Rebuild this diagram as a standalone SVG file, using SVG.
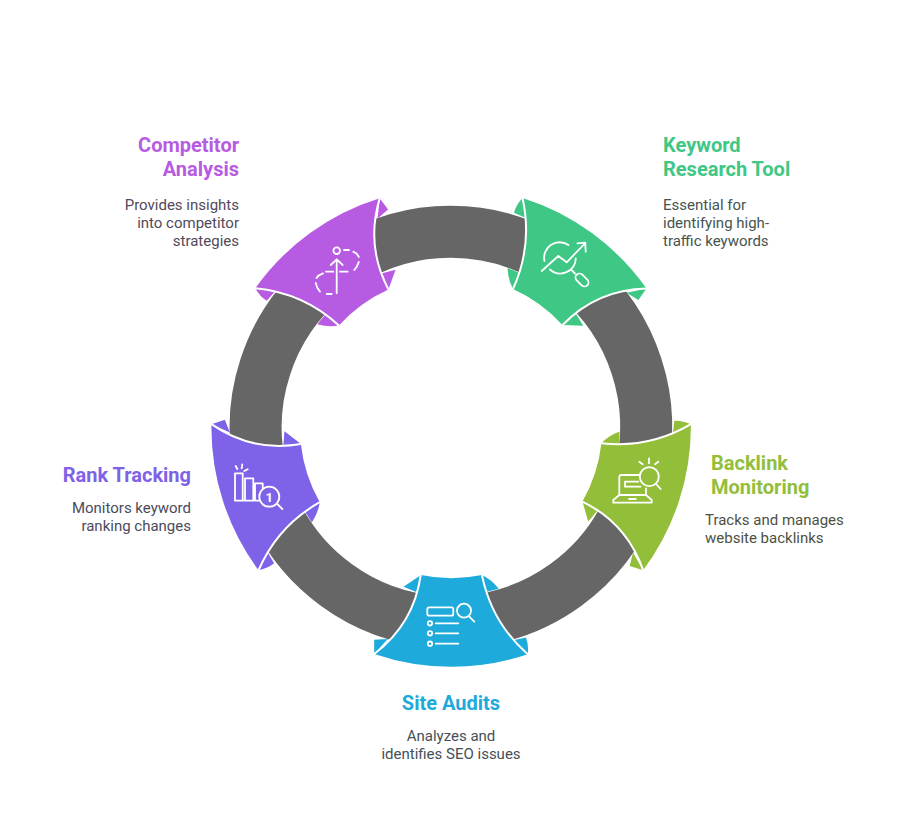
<svg xmlns="http://www.w3.org/2000/svg" xmlns:xlink="http://www.w3.org/1999/xlink" width="902" height="824" viewBox="0 0 902 824">
<style>
.ring{fill:none;stroke:#666666;stroke-width:52}
.sep{fill:none;stroke:#ffffff;stroke-width:2}
.ico{fill:none;stroke:#ffffff;stroke-width:1.8;stroke-linecap:round;stroke-linejoin:round}
text{font-family:Roboto,"Liberation Sans",sans-serif}
.t{font-size:20px;font-weight:700}
.d{font-size:15px}
.e{text-anchor:end}.m{text-anchor:middle}
.kw{fill:#3ec785}.bl{fill:#93be3a}.sa{fill:#1eaadb}.rt{fill:#7e63e9}.ca{fill:#b75ce2}
.dkw{fill:#46544f}.dbl{fill:#4d5143}.dsa{fill:#455057}.drt{fill:#4c4a5c}.dca{fill:#524a5a}
</style>
<defs>
<g id="petal">
<path d="M522.5 198Q516 205 514 212.7L526 218ZM513 289Q508 280 507.5 268L521 273.5ZM646.5 288.5L638.3 300L626.7 292.7ZM562.7 325L583.3 325.7L576 314Z"/>
<path d="M522.5 198A240 240 0 0 1 646.5 288.5Q596.9 289.6 562.5 325A151 151 0 0 0 513 289Q533 245 522.5 198Z"/>
<path class="sep" d="M522.5 198Q533 245 513 289M646.5 288.5Q596.9 289.6 562.5 325"/>
</g>
<path id="arc" class="ring" d="M576.4 277.2A195 195 0 0 1 640.2 474.2"/>
</defs>
<g id="connectors">
<use xlink:href="#arc" href="#arc"/>
<use xlink:href="#arc" href="#arc" transform="rotate(72 451 427)"/>
<use xlink:href="#arc" href="#arc" transform="rotate(144 451 427)"/>
<use xlink:href="#arc" href="#arc" transform="rotate(216 451 427)"/>
<use xlink:href="#arc" href="#arc" transform="rotate(288 451 427)"/>
</g>
<g id="node-keyword">
<use href="#petal" class="kw"/>
<g class="ico">
<path d="M544.5 261A15.5 15.5 0 0 1 568.5 245M575.8 258.5A15.5 15.5 0 0 1 550 269.5"/>
<path d="M541.7 271L558.3 256L566.7 262.3L585 243.3M577.3 243.3L585.3 242.7L585.7 251.7"/>
<path d="M571.5 270L575 273.5"/>
<rect x="574.5" y="276" width="15" height="8" rx="4" transform="rotate(45 582 280)"/>
</g>
<text class="t kw" x="663" y="152">Keyword</text>
<text class="t kw" x="663" y="176">Research Tool</text>
<text class="d dkw" x="663" y="210">Essential for</text>
<text class="d dkw" x="663" y="228">identifying high-</text>
<text class="d dkw" x="663" y="246">traffic keywords</text>
</g>
<g id="node-backlink">
<use href="#petal" class="bl" transform="rotate(72 451 427)"/>
<g class="ico">
<path d="M619.3 495V477Q619.3 475 621.3 475H639M646 488.3V495"/>
<path d="M619.3 495L613.3 500V502.7H651.7V500L646 495ZM629 499H635.7"/>
<path d="M638.3 481.7H625V486.7H640.5"/>
<circle cx="649.3" cy="476.7" r="9.5"/>
<path d="M656 484L660.7 489M649 458.3V463.3M639.3 461.7L642.7 464.3M658.3 461.7L655 464.3"/>
</g>
<text class="t bl" x="711" y="470">Backlink</text>
<text class="t bl" x="711" y="494">Monitoring</text>
<text class="d dbl" x="705" y="525">Tracks and manages</text>
<text class="d dbl" x="705" y="543">website backlinks</text>
</g>
<g id="node-site">
<use href="#petal" class="sa" transform="rotate(144 451 427)"/>
<g class="ico">
<rect x="427.3" y="607.3" width="26" height="8.4" rx="2"/>
<circle cx="464" cy="610.7" r="7"/>
<path d="M469.3 616.7L474.3 621.7M435.7 623.3H458.3M435.7 633.3H458.3M435.7 643.7H458.3"/>
<circle cx="430" cy="623.3" r="2.2"/>
<circle cx="430" cy="633.3" r="2.2"/>
<circle cx="430" cy="643.7" r="2.2"/>
</g>
<text class="t sa m" x="451" y="710">Site Audits</text>
<text class="d dsa m" x="451" y="741">Analyzes and</text>
<text class="d dsa m" x="451" y="759">identifies SEO issues</text>
</g>
<g id="node-rank">
<use href="#petal" class="rt" transform="rotate(216 451 427)"/>
<g class="ico">
<path d="M235 500.7V473.3H242.7V500.7M245 500.7V478.3H253.3V500.7M255 500.7V483.3H262.7V488M235 500.7H259"/>
<circle cx="269.3" cy="496.7" r="10"/>
<path d="M277.3 504L282.3 509M235.7 466L237.3 469M242.3 464.3L241.7 468.3M247.7 469.3L244.3 471"/>
</g>
<text x="269.3" y="501.5" font-size="13" font-weight="700" fill="#ffffff" text-anchor="middle">1</text>
<text class="t rt e" x="191" y="482">Rank Tracking</text>
<text class="d drt e" x="191" y="513">Monitors keyword</text>
<text class="d drt e" x="191" y="531">ranking changes</text>
</g>
<g id="node-competitor">
<use href="#petal" class="ca" transform="rotate(288 451 427)"/>
<g class="ico">
<circle cx="336.7" cy="250.7" r="3.3"/>
<path d="M344 250H349M353.3 251.7Q357.5 253.5 358.8 257M358.8 262Q357.5 266.5 354.3 270M326 271.7H333.3M340 271.7H347.7"/>
<path d="M336.7 293.3V259.3M330.7 265L336.7 259.3L342.7 265"/>
<path d="M323 273.3Q318.5 274.8 316.5 278M315.8 283Q316.5 288 320 291.7M326.7 294H331.7"/>
</g>
<text class="t ca e" x="239" y="152">Competitor</text>
<text class="t ca e" x="239" y="176">Analysis</text>
<text class="d dca e" x="239" y="210">Provides insights</text>
<text class="d dca e" x="239" y="228">into competitor</text>
<text class="d dca e" x="239" y="246">strategies</text>
</g>
</svg>
